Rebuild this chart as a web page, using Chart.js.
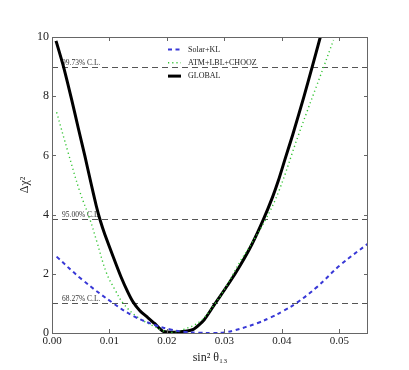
<!DOCTYPE html>
<html>
<head>
<meta charset="utf-8">
<script src="https://cdn.jsdelivr.net/npm/chart.js@4/dist/chart.umd.min.js"></script>
<style>
html,body{margin:0;padding:0;background:#fff;}
#wrap{width:409px;height:370px;}
</style>
</head>
<body>
<div id="wrap"><canvas id="c" width="409" height="370"></canvas></div>
<script>
// ---- data ----
const solarX = [0.0008,0.0052,0.0107,0.0142,0.0179,0.0206,0.0229,0.0255,0.0280,0.0300,0.0316,0.0357,0.0380,0.0403,0.0426,0.0461,0.0502,0.0550];
const solarY = [2.58,1.81,1.00,0.57,0.27,0.12,0.04,0.01,0.00,0.02,0.08,0.33,0.52,0.75,1.02,1.55,2.30,3.02];

const atmX = [0.0008,0.0028,0.0048,0.0066,0.0078,0.0095,0.0110,0.0124,0.0148,0.0179,0.0194,0.0207,0.0229,0.0258,0.0284,0.0304,0.0327,0.0345,0.0372,0.0395,0.0429,0.0473,0.0490];
const atmY = [7.46,6.10,4.80,3.84,3.09,2.02,1.45,1.00,0.55,0.21,0.07,0.02,0.12,0.40,1.00,1.60,2.40,2.95,3.84,4.80,6.69,9.00,9.90];

const globalX = [0.0007,0.0020,0.0034,0.0046,0.0057,0.0068,0.0077,0.0084,0.0092,0.0107,0.0120,0.0132,0.0141,0.0153,0.0165,0.0178,0.0187,0.0194,0.0218,0.0246,0.0265,0.0284,0.0306,0.0328,0.0348,0.0368,0.0384,0.0394,0.0406,0.0419,0.0438,0.0453,0.0467];
const globalY = [9.87,9.00,7.90,6.90,6.00,5.05,4.30,3.80,3.33,2.55,1.90,1.38,1.05,0.75,0.55,0.33,0.16,0.05,0.03,0.12,0.45,1.00,1.62,2.30,3.00,3.84,4.60,5.15,5.90,6.70,7.95,9.00,10.00];

const seriesLabels = ["Solar+KL", "ATM+LBL+CHOOZ", "GLOBAL"];
const xTicks = [0.00,0.01,0.02,0.03,0.04,0.05];
const yTicks = [0,2,4,6,8,10];
const clLevels = [1.0, 3.84, 9.0];
const clLabels = ["68.27% C.L.", "95.00% C.L.", "99.73% C.L."];

const pts = (xs, ys) => xs.map((x, i) => ({x: x, y: ys[i]}));

const SERIF = "'Liberation Serif','DejaVu Serif',serif";

const framePlugin = {
  id: 'frame',
  beforeDatasetsDraw(chart) {
    const {ctx, chartArea: a, scales: {x, y}} = chart;
    ctx.save();
    ctx.strokeStyle = '#555';
    ctx.lineWidth = 1;
    ctx.setLineDash([6, 4]);
    clLevels.forEach((lv, i) => {
      const py = Math.round(y.getPixelForValue(lv)) + 0.5;
      ctx.beginPath();
      ctx.moveTo(a.left, py);
      ctx.lineTo(a.right, py);
      ctx.stroke();
      ctx.fillStyle = '#333';
      ctx.font = "7.5px " + SERIF;
      ctx.textBaseline = 'bottom';
      ctx.textAlign = 'left';
      ctx.fillText(clLabels[i], a.left + 10, py - 1);
    });
    ctx.restore();
  },
  afterDraw(chart) {
    const {ctx, chartArea: a, scales: {x, y}} = chart;
    ctx.save();
    ctx.setLineDash([]);
    ctx.strokeStyle = '#666';
    ctx.lineWidth = 1;
    ctx.strokeRect(Math.round(a.left) + 0.5, Math.round(a.top) + 0.5,
                   Math.round(a.right - a.left) - 1, Math.round(a.bottom - a.top));
    const tl = 4;
    ctx.beginPath();
    xTicks.forEach(v => {
      const px = Math.round(x.getPixelForValue(v)) + 0.5;
      ctx.moveTo(px, a.bottom); ctx.lineTo(px, a.bottom - tl);
      ctx.moveTo(px, a.top); ctx.lineTo(px, a.top + tl);
    });
    yTicks.forEach(v => {
      const py = Math.round(y.getPixelForValue(v)) + 0.5;
      ctx.moveTo(a.left, py); ctx.lineTo(a.left + tl, py);
      ctx.moveTo(a.right, py); ctx.lineTo(a.right - tl, py);
    });
    ctx.stroke();

    // legend
    const lx = 168, ly0 = 49.5, dy = 13.3;
    chart.data.datasets.forEach((ds, i) => {
      const yy = ly0 + i * dy;
      ctx.strokeStyle = ds.borderColor;
      ctx.lineWidth = ds.borderWidth;
      ctx.setLineDash(ds.borderDash || []);
      ctx.beginPath();
      ctx.moveTo(lx, yy);
      ctx.lineTo(lx + 13, yy);
      ctx.stroke();
      ctx.setLineDash([]);
      ctx.fillStyle = '#222';
      ctx.font = "8px " + SERIF;
      ctx.textAlign = 'left';
      ctx.textBaseline = 'middle';
      ctx.fillText(ds.label, lx + 20, yy);
    });
    ctx.restore();
  }
};

new Chart(document.getElementById('c'), {
  type: 'line',
  data: {
    datasets: [
      {label: seriesLabels[0], data: pts(solarX, solarY), borderColor: '#3838d6', borderWidth: 2,
       borderDash: [4, 3.5], pointRadius: 0, fill: false, tension: 0.4},
      {label: seriesLabels[1], data: pts(atmX, atmY), borderColor: '#33c433', borderWidth: 1.4,
       borderDash: [1.2, 3], pointRadius: 0, fill: false, tension: 0.4},
      {label: seriesLabels[2], data: pts(globalX, globalY), borderColor: '#000', borderWidth: 3,
       pointRadius: 0, fill: false, tension: 0.2}
    ]
  },
  options: {
    responsive: false,
    animation: false,
    devicePixelRatio: 1,
    layout: {padding: {left: 18, right: 41, top: 37, bottom: 5}},
    plugins: {legend: {display: false}, tooltip: {enabled: false}},
    scales: {
      x: {
        type: 'linear', min: 0, max: 0.055,
        grid: {display: false, drawTicks: false}, border: {display: false},
        afterBuildTicks: s => { s.ticks = xTicks.map(v => ({value: v})); },
        afterFit: s => { s.height = 370 - 333 - 5; },
        ticks: {padding: 2, color: '#222', font: {family: SERIF, size: 11},
                maxRotation: 0, autoSkip: false, callback: v => Number(v).toFixed(2)},
        title: {display: true, text: 'sin² θ₁₃', color: '#222', font: {family: SERIF, size: 12}, padding: 0}
      },
      y: {
        type: 'linear', min: 0, max: 10,
        grid: {display: false, drawTicks: false}, border: {display: false},
        afterBuildTicks: s => { s.ticks = yTicks.map(v => ({value: v})); },
        afterFit: s => { s.width = 52 - 18; },
        ticks: {padding: 3, color: '#222', font: {family: SERIF, size: 12}, autoSkip: false,
                callback: v => String(v)},
        title: {display: true, text: 'Δχ²', color: '#222', font: {family: SERIF, size: 12}, padding: 0}
      }
    }
  },
  plugins: [framePlugin]
});
</script>
</body>
</html>
